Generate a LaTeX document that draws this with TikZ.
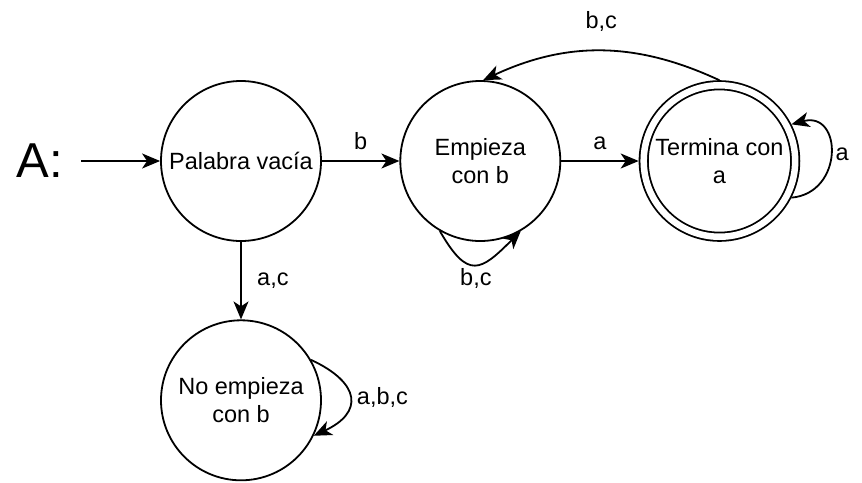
\documentclass[tikz,border=0pt]{standalone}
\usepackage{fontspec}
\setmainfont{Liberation Sans}
\usetikzlibrary{positioning,arrows.meta}

\begin{document}
\begin{tikzpicture}[
    node distance=77.5pt,
    state/.style={circle,draw,line width=1.8pt,minimum size=160pt,inner sep=0pt,align=center,font=\fontsize{23.5}{27.5}\selectfont},
    accepting/.style={state,double,double distance=6.5pt,minimum size=151.5pt,outer sep=5pt},
    arrow/.style={-{Stealth[length=18pt,width=15pt,inset=5pt]},line width=1.8pt},
    edgelabel/.style={font=\fontsize{23.5}{27.5}\selectfont},
]
\useasboundingbox (0pt,0pt) rectangle (862pt,-482pt);

% ===== States =====
\node[state] (palabra) at (241pt,-161pt) {Palabra vacía};
\node[state,right=of palabra] (empieza) {Empieza\\con b};
\node[accepting,right=of empieza] (termina) {Termina con\\a};
\node[state,below=of palabra] (noempieza) {No empieza\\con b};

% ===== Automaton name =====
\node[font=\fontsize{49}{50}\selectfont,inner sep=0pt,left=97pt of palabra] (automaton) {A:};

% ===== Transitions =====
\draw[arrow,shorten <=18pt] (automaton.east) -- (palabra.west);
\draw[arrow] (palabra) -- node[edgelabel,above=7pt] {b} (empieza);
\draw[arrow] (palabra) -- node[edgelabel,right=12pt] {a,c} (noempieza);
\draw[arrow] (empieza) -- node[edgelabel,above=7pt] {a} (termina);
\draw[arrow] (termina.north) to[out=155,in=25] node[edgelabel,above=15pt] {b,c} (empieza.88);

% loops
\draw[arrow] (empieza.240) to[out=-60,in=225,looseness=1.8] node[edgelabel,below] {b,c} (empieza.300);
\draw[arrow] (termina.333) to[out=5,in=15,looseness=1.85] node[edgelabel,right=1pt] {a} (termina.27);
\draw[arrow] (noempieza.30) to[out=-25,in=25,looseness=1.85] node[edgelabel,right=3pt] {a,b,c} (noempieza.-26);

\end{tikzpicture}
\end{document}
